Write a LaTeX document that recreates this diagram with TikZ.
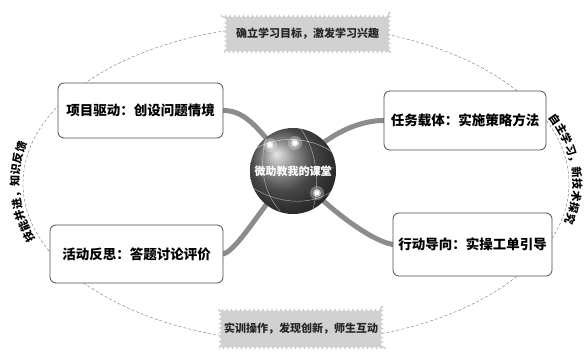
\documentclass[tikz,border=0pt]{standalone}
\usepackage{fontspec}
\setmainfont{Noto Sans CJK SC}
\usetikzlibrary{decorations.pathmorphing,decorations.text,backgrounds}

\begin{document}
\begin{tikzpicture}[x=1pt,y=1pt,
   topic/.style={draw=black!70,thick,rounded corners=6pt,fill=white,inner sep=0pt,
      font=\bfseries\fontsize{13.5}{15}\selectfont},
   puff/.style={fill=black!18,draw=black!22,decorate,
      decoration={bumps,segment length=9pt,amplitude=2.5pt},inner sep=0pt,
      font=\bfseries\fontsize{11}{13}\selectfont,text=black!85},
   branch/.style={line width=5pt,draw=black!45,line cap=round},
   ring/.style={densely dashed,black!55,thin},
   arctext/.style={decorate,decoration={text along path,text align=center,raise=2pt,
      text={|\bfseries\fontsize{11}{13}\selectfont|#1}}},
   glow/.style={fill=white}]
\useasboundingbox (0,0) rectangle (588,356);

\node[topic,minimum width=165,minimum height=55] (P) at (140.5,245.5) {项目驱动：创设问题情境};
\node[topic,minimum width=173,minimum height=58] (H) at (136.5,102) {活动反思：答题讨论评价};
\node[topic,minimum width=162,minimum height=59] (R) at (465,235.5) {任务载体：实施策略方法};
\node[topic,minimum width=159,minimum height=63] (X) at (472.5,111.5) {行动导向：实操工单引导};

\node[puff,minimum width=166,minimum height=38] (goal) at (307.5,322) {确立学习目标，激发学习兴趣};
\node[puff,minimum width=164,minimum height=40] (act) at (301,27) {实训操作，发现创新，师生互动};

\node[circle,minimum size=86,inner sep=0pt,ball color=black!60] (G) at (293,185) {};
\begin{scope}
  \clip (G) circle (43);
  \draw[white,opacity=.7] (252,205) .. controls (275,222) and (315,220) .. (337,200);
  \draw[white,opacity=.6] (250,170) .. controls (280,150) and (315,150) .. (336,168);
  \draw[white,opacity=.6] (268,225) .. controls (258,195) and (262,165) .. (280,145);
  \draw[white,opacity=.6] (300,228) .. controls (318,205) and (320,170) .. (312,143);
  \draw[white,opacity=.5] (255,190) -- (336,188);
\end{scope}
\foreach \gx/\gy in {270/211,295/213,317/163}{
  \fill[glow,opacity=.3] (\gx,\gy) circle (7);
  \fill[glow,opacity=.6] (\gx,\gy) circle (4);
  \fill[glow] (\gx,\gy) circle (2.2);
}
\node[text=black!50,font=\bfseries\fontsize{11}{13}\selectfont] at ([shift={(.6,-.6)}]G) {微助教我的课堂};
\node[text=white,font=\bfseries\fontsize{11}{13}\selectfont] (title) at (G) {微助教我的课堂};

\begin{scope}[on background layer]
  \draw[ring] (296,172.5) ellipse [x radius=273,y radius=158];
  \draw[branch] (P.east) .. controls +(25,0) and (262,222) .. (G.center);
  \draw[branch] (R.west) .. controls +(-25,0) and (325,222) .. (G.center);
  \draw[branch] (H.east) .. controls +(15,5) and (262,150) .. (G.center);
  \draw[branch] (X.west) .. controls +(-25,5) and (325,150) .. (G.center);
\end{scope}

\path[arctext={技能并进，知识反馈}]
  ([shift={(215:275 and 160)}]296,172.5) arc [start angle=215,end angle=150,x radius=275,y radius=160];
\path[arctext={自主学习，新技术探究}]
  ([shift={(37:275 and 160)}]296,172.5) arc [start angle=37,end angle=-28,x radius=275,y radius=160];
\end{tikzpicture}
\end{document}
